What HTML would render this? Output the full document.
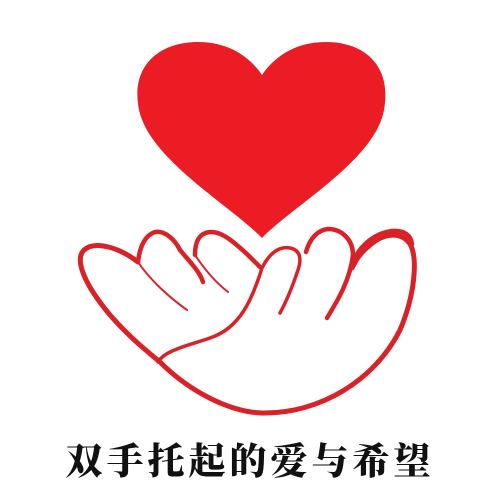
<!DOCTYPE html>
<html><head><meta charset="utf-8"><style>
html,body{margin:0;padding:0;background:#fff;}
#wrap{position:relative;width:500px;height:500px;overflow:hidden;background:#fff;}
svg{position:absolute;left:0;top:0;}
#title{position:absolute;left:0;top:440px;width:500px;text-align:center;font-family:"Liberation Sans","Noto Serif CJK SC","Noto Sans CJK SC",serif;font-weight:900;font-size:37px;letter-spacing:4px;color:#111;line-height:44px;}
</style></head><body>
<div id="wrap">
<svg width="500" height="500" viewBox="0 0 500 500">
  <path fill="#ec1c24"
    d="M262,238 C230,205 150,160 139,110 C130,65 160,42 198,42 C232,42 252,60 262,75 C272,60 292,42 326,42 C364,42 392,65 384,110 C375,160 294,205 262,238 Z"/>
  <g fill="none" stroke="#d92128" stroke-linecap="round" stroke-linejoin="round">
    <path stroke-width="5"
      d="M138,262 C120,248 95,240 84,250 C74,260 85,285 110,315 C130,338 148,352 160,362 C190,392 230,412 262,413 C320,414 375,380 400,330 C415,295 418,258 410,244 C402,232 385,232 370,245 C360,253 356,260 352,268"/>
    <path stroke-width="4.5"
      d="M138,262 C140,245 146,235 155,232 C165,230 175,240 180,250 C190,262 200,272 203,282"/>
    <path stroke-width="2"
      d="M138,262 C150,280 170,298 187,310"/>
    <path stroke-width="4.5"
      d="M195,255 C195,240 200,233 210,232 C222,231 235,243 248,255 L260,267"/>
    <path stroke-width="2"
      d="M195,255 C205,270 215,282 228,292"/>
    <path stroke-width="3.5"
      d="M158,362 C165,350 190,345 210,338 C240,328 252,300 262,268 C270,252 280,246 290,248 C300,250 302,258 298,270 C292,288 286,302 280,313"/>
    <path stroke-width="4.5"
      d="M306,252 C310,238 318,230 328,229 C342,229 353,240 353,255 C350,280 338,300 327,318"/>
    <path stroke-width="4.5"
      d="M353,262 C360,245 375,233 392,231 C405,230 411,236 412,244"/>
  </g>
</svg>
<div id="title">双手托起的爱与希望</div>
</div>
</body></html>
